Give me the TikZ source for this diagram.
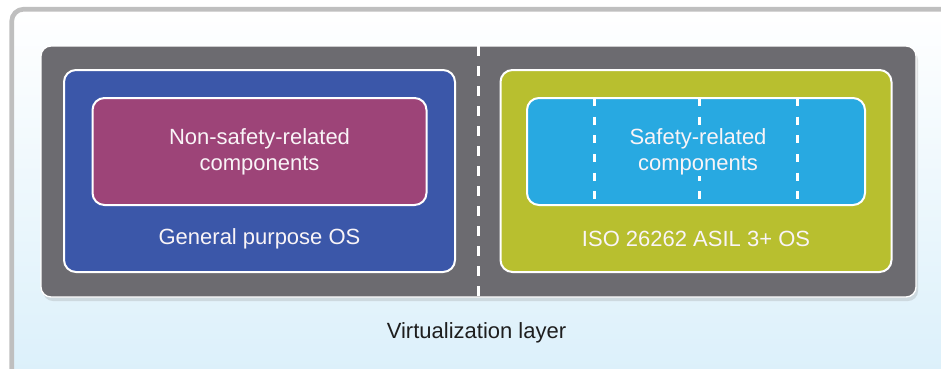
\documentclass[tikz,border=0pt]{standalone}
\usepackage{fontspec}
\setmainfont{Liberation Sans}
\usetikzlibrary{positioning,calc,shadows}
\definecolor{slate}{HTML}{6C6B70}
\definecolor{royal}{HTML}{3B57A9}
\definecolor{plum}{HTML}{9D4478}
\definecolor{osgreen}{HTML}{B8BF2F}
\definecolor{sky}{HTML}{28A9E1}
\definecolor{mist}{HTML}{D9EFFA}
\definecolor{rim}{HTML}{BFBFBF}
\definecolor{ink}{HTML}{1E1E1E}
\tikzset{lbl/.style={font=\fontsize{16.5}{19.5}\selectfont,align=center,text=white!94!plum,inner sep=0pt},
         frame/.style={draw=rim,line width=3.5pt,rounded corners=9pt,top color=white,bottom color=mist},
         hostbox/.style={fill=slate,draw=white,line width=1pt,rounded corners=7.5pt,outer sep=0pt,
                         drop shadow={shadow xshift=1.5pt,shadow yshift=-3pt,opacity=0.22}},
         osbox/.style={draw=white,line width=1.5pt,rounded corners=9pt,outer sep=0pt,minimum width=293.25pt,minimum height=151.5pt},
         compbox/.style={draw=white,line width=1.5pt,rounded corners=9pt,outer sep=0pt,minimum height=80.25pt},
         divider/.style={white,line width=2.2pt,dash pattern=on 7.5pt off 7.5pt},
         partline/.style={white,line width=1.8pt,dash pattern=on 6pt off 8pt}}

\begin{document}
\begin{tikzpicture}[x=0.75pt,y=-0.75pt]
 \clip (0,0) rectangle (941,368);
 \node[frame,minimum width=726.2pt,minimum height=293.1pt] (frame) at (495.85,204.6) {};
 \node[hostbox,minimum width=656.25pt,minimum height=188.25pt] (host) at (478.5,171.5) {};
 \draw[divider] (host.north) -- (host.south);
 % guest partitions
 \node[osbox,fill=royal] (gpos) at (259.5,171) {};
 \node[osbox,fill=osgreen] (safeos) at (696,171) {};
 \node[compbox,fill=plum,minimum width=250.5pt,below=21pt of gpos.north] (nonsafe) {};
 \node[compbox,fill=sky,minimum width=253.5pt,below=21pt of safeos.north] (safe) {};
 \foreach \f in {0.2,0.51,0.8}
   \draw[partline] ($(safe.north west)!\f!(safe.north east)$) -- ($(safe.south west)!\f!(safe.south east)$);
 \node[lbl] (nonsafetxt) at (nonsafe.center) {Non-safety-related\\components};
 \node[lbl,fill=sky,inner ysep=1pt] (safetxt) at ($(safe.center)+(2,0)$) {Safety-related\\components};
 \node[lbl] (gposlbl) at ($(nonsafe.south)!0.5!(gpos.south)$) {General purpose OS};
 \node[lbl] (safeoslbl) at ($(safe.south)!0.5!(safeos.south)$) {ISO 26262 ASIL 3+ OS};
 \node[lbl,text=ink] (virt) at ($(host.south)+(-2,36)$) {Virtualization layer};
\end{tikzpicture}
\end{document}
